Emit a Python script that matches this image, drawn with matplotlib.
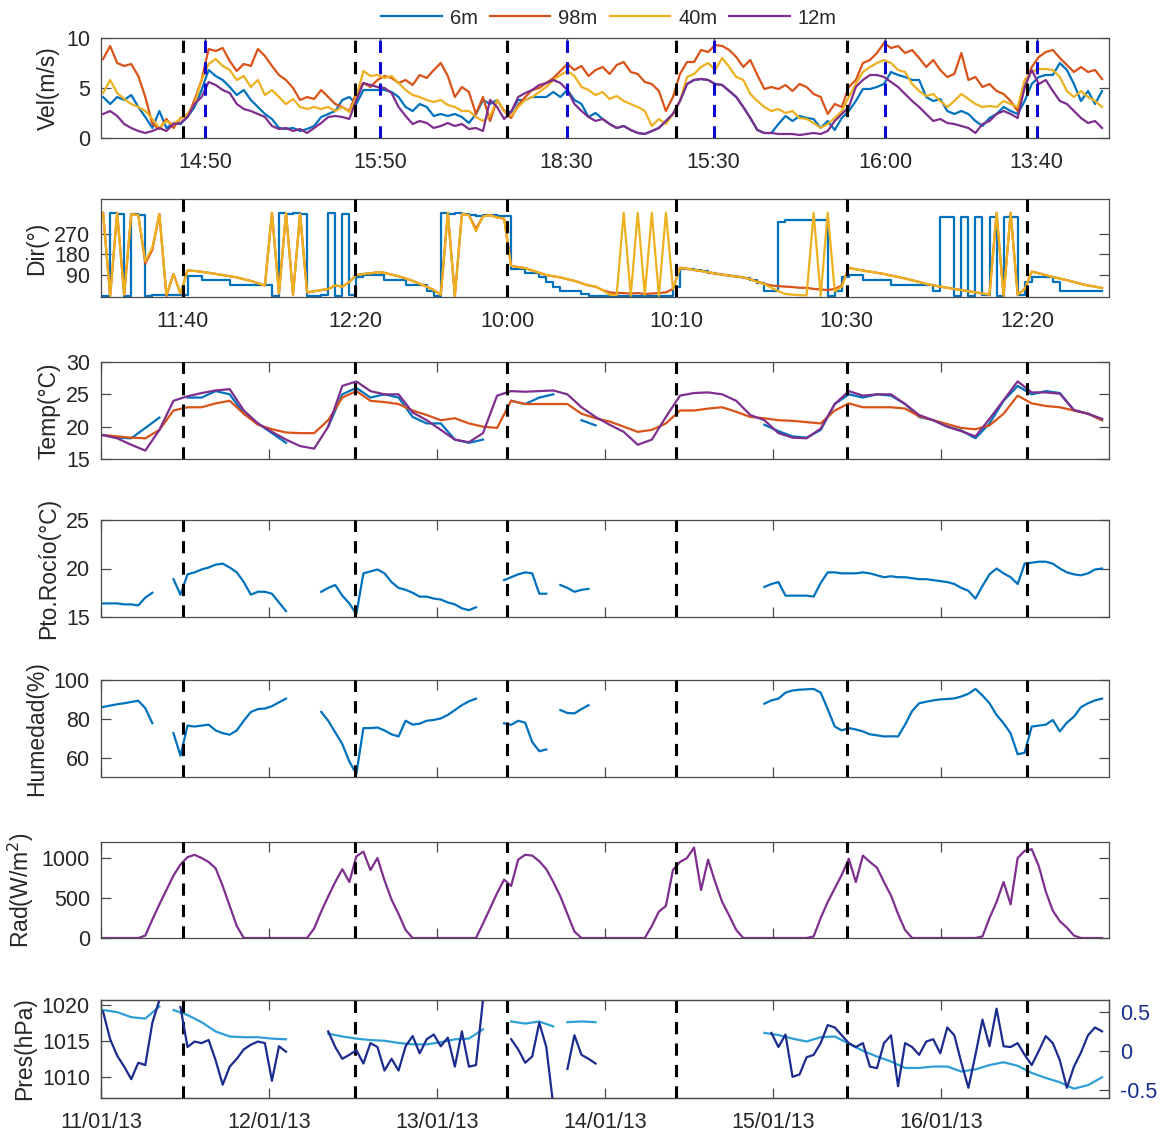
import numpy as np
import matplotlib
matplotlib.use("Agg")
import matplotlib.pyplot as plt

nan = np.nan

# ---------------- data ----------------
# hourly samples (index k), 2-hourly for the smoother temperature / pressure curves
vel_6m = [4.1, 3.4, 4.1, 3.8, 4.3, 3.1, 2.1, 1.0, 2.7, 1.0,
          1.5, 1.4, 2.1, 3.1, 4.8, 6.8, 6.2, 5.8, 5.1, 4.3,
          4.8, 3.8, 3.1, 2.4, 1.9, 1.0, 0.9, 1.0, 0.7, 0.9,
          1.2, 2.1, 2.4, 2.7, 3.8, 4.1, 3.4, 4.8, 4.8, 4.8,
          4.8, 4.6, 4.1, 3.1, 2.7, 3.4, 3.1, 2.2, 2.4, 2.2,
          2.4, 2.1, 1.5, 2.4, 3.8, 3.4, 3.8, 2.7, 2.6, 3.8,
          3.8, 4.1, 4.1, 4.1, 4.6, 4.1, 4.8, 3.8, 3.4, 2.1,
          2.5, 1.9, 1.4, 1.0, 1.2, 0.8, 0.5, 0.4, 0.7, 1.0,
          1.7, 2.4, 3.7, 5.4, 5.8, 5.9, 5.8, 5.4, 5.3, 4.7,
          4.1, 3.1, 2.0, 0.8, 0.5, 0.5, 1.4, 2.2, 1.7, 2.2,
          2.0, 1.9, 1.0, 1.7, 0.8, 2.0, 2.7, 3.7, 4.9, 4.9,
          5.1, 5.4, 6.6, 6.3, 6.1, 5.8, 5.8, 4.1, 3.7, 3.9,
          2.7, 2.4, 2.7, 2.4, 1.7, 1.2, 2.0, 2.4, 3.1, 2.7,
          2.4, 3.7, 5.4, 6.1, 6.3, 6.3, 7.5, 6.8, 5.4, 3.7,
          4.7, 3.4, 4.7]
vel_98m = [7.9, 9.2, 7.5, 7.2, 7.4, 6.2, 4.1, 1.4, 0.9, 1.9,
           1.0, 2.0, 2.2, 3.8, 5.8, 8.9, 8.7, 9.0, 7.7, 6.7,
           7.4, 7.2, 8.9, 8.2, 7.2, 6.3, 5.8, 5.0, 3.8, 4.1,
           3.9, 4.8, 4.1, 3.4, 3.1, 2.7, 4.5, 5.5, 5.1, 5.8,
           6.2, 6.0, 5.5, 5.8, 5.3, 6.3, 6.0, 6.8, 7.5, 6.2,
           4.1, 5.1, 4.6, 2.4, 4.1, 1.7, 3.8, 2.7, 2.0, 3.3,
           4.1, 4.8, 5.0, 5.5, 6.0, 6.7, 7.4, 6.8, 7.2, 6.2,
           6.8, 7.1, 6.4, 7.3, 7.6, 6.6, 6.4, 5.6, 5.4, 4.7,
           2.7, 4.1, 6.4, 7.6, 7.6, 8.8, 8.6, 9.3, 9.2, 8.8,
           8.1, 7.1, 7.8, 6.3, 4.9, 5.1, 4.9, 5.3, 4.7, 5.4,
           5.1, 4.4, 4.1, 2.4, 3.4, 3.1, 5.1, 5.8, 7.5, 7.8,
           8.5, 9.5, 9.0, 9.2, 8.5, 8.8, 8.0, 7.1, 7.8, 6.8,
           6.1, 6.4, 8.5, 5.8, 6.1, 5.1, 5.4, 4.7, 4.4, 3.7,
           2.7, 5.1, 7.1, 8.1, 8.6, 8.8, 8.0, 7.3, 6.6, 7.1,
           6.6, 6.8, 5.9]
vel_40m = [4.5, 5.8, 4.5, 3.9, 3.4, 3.1, 2.7, 1.9, 1.0, 1.7,
           1.4, 1.9, 2.4, 3.4, 5.8, 7.4, 7.9, 7.2, 6.8, 5.8,
           6.2, 5.1, 5.8, 4.3, 4.8, 4.1, 3.4, 3.9, 3.1, 2.9,
           3.1, 2.9, 3.1, 2.7, 3.1, 2.6, 4.1, 6.7, 6.2, 6.3,
           6.0, 6.2, 5.5, 4.8, 4.3, 4.1, 3.8, 3.6, 3.8, 3.3,
           3.1, 2.7, 2.7, 2.1, 1.7, 2.2, 3.8, 2.7, 2.2, 3.1,
           3.8, 4.1, 4.6, 5.1, 5.8, 6.3, 6.7, 6.2, 5.1, 4.8,
           4.3, 4.6, 3.9, 4.2, 3.7, 3.4, 3.1, 2.7, 1.2, 1.9,
           1.4, 2.4, 3.7, 6.1, 6.4, 7.1, 7.5, 6.8, 8.0, 7.1,
           6.1, 5.8, 4.4, 3.7, 3.1, 2.7, 2.9, 2.5, 2.7, 2.0,
           1.9, 1.5, 1.0, 1.4, 2.0, 2.7, 4.1, 5.4, 6.6, 7.1,
           7.5, 7.8, 7.5, 6.8, 6.6, 5.4, 4.7, 4.2, 4.4, 3.7,
           3.1, 3.7, 4.4, 3.9, 3.4, 3.1, 3.2, 3.1, 3.7, 3.4,
           3.1, 5.8, 6.6, 6.9, 6.9, 6.8, 6.1, 4.7, 4.1, 4.7,
           4.1, 3.7, 3.1]
vel_12m = [2.4, 2.7, 2.2, 1.4, 1.0, 0.7, 0.5, 0.7, 1.0, 0.7,
           1.4, 1.5, 2.1, 3.4, 4.1, 5.6, 5.3, 4.8, 4.5, 3.4,
           2.9, 2.7, 2.4, 2.1, 1.2, 0.9, 1.0, 0.7, 0.9, 0.5,
           1.0, 1.5, 2.1, 2.2, 2.1, 1.9, 3.8, 5.5, 5.3, 5.1,
           5.0, 4.5, 3.1, 2.2, 1.4, 1.7, 1.5, 1.0, 1.2, 1.5,
           1.2, 1.4, 0.9, 1.0, 0.7, 3.8, 3.1, 1.9, 2.6, 4.1,
           4.5, 4.8, 5.3, 5.5, 5.8, 5.5, 4.8, 3.4, 2.7, 2.1,
           1.7, 1.9, 1.4, 1.0, 1.2, 0.8, 0.5, 0.4, 0.7, 1.0,
           1.7, 2.4, 3.7, 5.4, 5.8, 5.9, 5.8, 5.4, 5.3, 4.7,
           4.1, 3.1, 2.0, 0.8, 0.5, 0.5, 0.4, 0.4, 0.4, 0.3,
           0.4, 0.5, 0.4, 0.7, 1.7, 2.4, 3.1, 5.1, 5.8, 6.3,
           6.3, 6.1, 5.6, 5.1, 4.4, 3.7, 3.1, 2.4, 1.7, 1.9,
           1.5, 1.4, 1.2, 1.0, 0.5, 1.4, 1.7, 2.4, 2.7, 2.4,
           2.0, 5.1, 6.8, 5.4, 5.8, 4.7, 3.7, 3.4, 2.7, 2.0,
           1.5, 1.7, 1.0]

dir_6m = [0, 360, 355, 0, 355, 350, 0, 5, 5, 5,
          5, 5, 88, 88, 70, 70, 70, 70, 45, 45,
          45, 45, 45, 45, 0, 360, 355, 360, 355, 0,
          0, 5, 360, 0, 355, 5, 80, 90, 90, 90,
          70, 70, 70, 45, 45, 45, 20, 0, 360, 355,
          360, 355, 350, 345, 350, 350, 345, 345, 115, 115,
          100, 100, 80, 60, 40, 20, 20, 20, 10, 0,
          0, 0, 0, 0, 0, 0, 0, 0, 0, 0,
          0, 40, 118, 116, 110, 106, 100, 95, 90, 86,
          82, 78, 70, 55, 20, 20, 320, 330, 330, 330,
          330, 330, 330, 0, 20, 80, 90, 90, 70, 70,
          70, 70, 45, 45, 45, 45, 45, 45, 20, 340,
          340, 0, 340, 0, 340, 5, 340, 0, 340, 340,
          5, 60, 82, 82, 82, 60, 20, 20, 20, 20,
          20, 20, 20]
dir_98m = [360, 0, 360, 5, 355, 350, 140, 200, 355, 0,
           95, 10, 110, 108, 104, 100, 95, 90, 85, 80,
           72, 65, 55, 45, 360, 10, 360, 5, 355, 15,
           20, 25, 30, 45, 40, 60, 90, 95, 98, 102,
           100, 92, 85, 75, 65, 52, 40, 25, 5, 360,
           0, 355, 350, 290, 345, 350, 340, 335, 130, 125,
           120, 110, 100, 90, 85, 80, 72, 65, 55, 45,
           40, 25, 15, 12, 12, 10, 12, 8, 10, 12,
           15, 30, 122, 118, 112, 108, 102, 97, 92, 88,
           84, 80, 72, 62, 52, 45, 42, 40, 38, 35,
           35, 30, 28, 25, 30, 45, 122, 115, 110, 105,
           100, 95, 88, 82, 75, 68, 60, 52, 45, 40,
           35, 30, 25, 20, 15, 10, 5, 360, 0, 360,
           5, 30, 105, 98, 90, 82, 75, 68, 60, 52,
           45, 40, 34]
dir_40m = [360, 0, 360, 5, 355, 350, 150, 210, 355, 5,
           95, 10, 110, 108, 104, 100, 95, 90, 85, 80,
           72, 65, 55, 45, 360, 10, 360, 5, 355, 15,
           20, 25, 30, 45, 40, 60, 90, 95, 98, 102,
           100, 92, 85, 75, 65, 52, 40, 25, 5, 360,
           0, 355, 350, 280, 345, 350, 340, 335, 130, 125,
           120, 110, 100, 90, 85, 80, 72, 65, 55, 45,
           40, 25, 5, 3, 360, 0, 360, 5, 360, 0,
           360, 30, 120, 118, 112, 108, 102, 97, 92, 88,
           84, 80, 72, 60, 50, 35, 20, 8, 5, 3,
           2, 360, 0, 360, 20, 40, 122, 115, 110, 105,
           100, 95, 88, 82, 75, 68, 60, 52, 45, 40,
           35, 30, 25, 20, 15, 10, 5, 360, 0, 360,
           5, 30, 105, 98, 90, 82, 75, 68, 60, 52,
           45, 40, 34]

# temperature, every 2 h
temp_6m = [18.7, 18.3, 18.2, 19.8, 21.4, nan, 24.5, 24.5, 25.5, 25.0,
           22.0, 20.5, 19.0, 17.5, nan, nan, 20.0, 25.0, 26.0, 24.5,
           25.0, 24.5, 21.5, 20.5, 20.5, 18.0, 17.5, 18.0, nan, 24.0,
           23.5, 24.5, 25.0, nan, 21.0, 20.2, nan, nan, nan, nan,
           nan, nan, nan, nan, nan, nan, nan, 20.3, 19.3, 18.5,
           18.3, 19.5, 23.5, 25.0, 24.5, 25.0, 24.8, 23.5, 21.5, 21.0,
           20.0, 19.4, 18.2, 20.5, 24.0, 26.3, 25.0, 25.5, 25.2, 22.5,
           22.0, 21.0]
temp_98m = [18.7, 18.5, 18.3, 18.2, 19.5, 22.5, 23.0, 23.0, 23.6, 24.0,
            22.0, 20.3, 19.6, 19.1, 19.0, 19.0, 21.0, 24.5, 25.5, 24.0,
            23.8, 23.5, 22.5, 21.8, 21.0, 21.3, 20.5, 20.0, 19.8, 24.0,
            23.5, 23.5, 23.5, 23.5, 22.0, 21.3, 20.8, 20.0, 19.2, 19.5,
            20.5, 22.5, 22.5, 22.8, 23.0, 22.3, 21.5, 21.3, 21.0, 20.9,
            20.7, 20.5, 22.5, 23.6, 23.0, 23.0, 23.0, 22.8, 21.6, 21.0,
            20.4, 19.8, 19.6, 20.2, 22.0, 24.8, 23.6, 23.2, 23.0, 22.5,
            22.0, 21.0]
temp_12m = [18.7, 18.2, 17.2, 16.3, 19.5, 24.0, 24.7, 25.2, 25.6, 25.8,
            22.5, 20.5, 19.2, 18.0, 17.0, 16.6, 20.0, 26.3, 27.0, 25.5,
            25.0, 25.0, 22.2, 21.0, 19.5, 18.0, 17.6, 19.0, 24.8, 25.5,
            25.4, 25.5, 25.6, 25.0, 23.0, 21.5, 20.3, 19.2, 17.2, 18.0,
            21.5, 24.8, 25.2, 25.3, 25.0, 24.0, 21.8, 21.0, 19.0, 18.3,
            18.2, 19.7, 23.5, 25.5, 24.8, 25.0, 25.0, 23.5, 21.8, 21.0,
            20.0, 19.3, 18.5, 21.2, 24.1, 27.0, 25.3, 25.3, 25.1, 22.6,
            22.0, 21.2]

# 6 m sensor runs in pieces: start sample of each piece and hourly values
piece_start = [0, 10, 31, 57, 65, 94]
dew_vals = [[16.4, 16.4, 16.4, 16.3, 16.3, 16.2, 17.0, 17.5],
            [18.9, 17.3, 19.4, 19.6, 19.9, 20.1, 20.4, 20.5, 20.1, 19.6, 18.6, 17.3,
             17.6, 17.6, 17.4, 16.5, 15.6],
            [17.6, 18.0, 18.3, 17.2, 16.4, 15.3, 19.5, 19.7, 19.9, 19.5, 18.6, 18.0,
             17.8, 17.5, 17.1, 17.1, 16.9, 16.8, 16.5, 16.3, 15.9, 15.7, 16.0],
            [18.8, 19.1, 19.4, 19.6, 19.5, 17.4, 17.4],
            [18.3, 18.0, 17.6, 17.8, 17.9],
            [18.1, 18.4, 18.6, 17.2, 17.2, 17.2, 17.2, 17.1, 18.5, 19.6,
             19.6, 19.5, 19.5, 19.5, 19.6, 19.5, 19.3, 19.1, 19.2, 19.1,
             19.1, 19.0, 18.9, 18.9, 18.8, 18.7, 18.6, 18.4, 18.0, 17.7,
             16.9, 18.2, 19.4, 20.0, 19.5, 19.1, 18.4, 20.5, 20.6, 20.7,
             20.7, 20.5, 20.0, 19.6, 19.4, 19.3, 19.5, 19.9, 20.0]]
hum_vals = [[86.1, 86.8, 87.5, 88.0, 88.7, 89.3, 85.5, 77.7],
            [72.6, 61.0, 76.5, 76.0, 76.5, 77.0, 74.0, 72.6, 71.8, 74.0, 79.0, 83.5,
             85.0, 85.3, 86.5, 88.5, 90.4],
            [83.6, 79.0, 73.0, 67.0, 58.0, 51.5, 75.2, 75.2, 75.5, 74.0, 72.0, 70.9,
             79.0, 77.0, 77.5, 79.0, 79.4, 80.2, 82.0, 84.5, 87.0, 89.0, 90.4],
            [77.7, 76.9, 79.0, 78.0, 68.0, 63.3, 64.2],
            [84.5, 83.0, 82.8, 85.0, 87.0],
            [87.8, 89.5, 90.4, 93.5, 94.6, 95.0, 95.2, 95.4, 93.5, 85.0,
             76.0, 74.0, 75.2, 74.5, 73.5, 72.0, 71.5, 70.9, 71.0, 70.9,
             77.0, 84.0, 88.0, 88.8, 89.5, 90.0, 90.2, 90.5, 91.5, 92.9,
             95.4, 92.0, 88.0, 82.0, 77.7, 72.5, 61.7, 62.5, 76.0, 76.5,
             77.0, 79.4, 73.5, 78.0, 81.1, 86.0, 88.0, 89.5, 90.4]]

rad = [0, 0, 0, 0, 0, 0,
       30, 230, 420, 600, 780, 920, 1010, 1040, 1000, 950, 870, 650, 400, 150,
       0, 0, 0, 0, 0, 0, 0, 0, 0,
       0, 120, 330, 520, 700, 860, 700, 1020, 1080, 850, 1000, 720, 480, 300, 100,
       0, 0, 0, 0, 0, 0, 0, 0, 0,
       0, 180, 370, 560, 730, 650, 980, 1040, 1030, 960, 860, 700, 520, 300, 80,
       0, 0, 0, 0, 0, 0, 0, 0, 0,
       0, 150, 330, 400, 850, 950, 1000, 1130, 600, 980, 700, 450, 280, 100,
       0, 0, 0, 0, 0, 0, 0, 0, 0, 0,
       20, 250, 450, 620, 790, 990, 700, 1030, 950, 880, 700, 530, 300, 100,
       0, 0, 0, 0, 0, 0, 0, 0, 0, 0,
       20, 250, 450, 700, 420, 1000, 1090, 1110, 900, 580, 340, 210, 130, 30,
       0, 0, 0, 0]

pres_start = [0, 10, 32, 58, 66, 94]          # every 2 h
pres_vals = [[1019.3, 1019.0, 1018.3, 1018.1, 1019.8],
             [1019.3, 1018.6, 1017.6, 1016.3, 1015.6, 1015.5, 1015.5, 1015.3, 1015.2],
             [1016.0, 1015.6, 1015.3, 1015.1, 1015.0, 1014.7, 1014.5, 1014.5, 1014.8,
              1015.2, 1015.3, 1016.6],
             [1017.7, 1017.4, 1017.7, 1017.0],
             [1017.6, 1017.7, 1017.6],
             [1016.1, 1015.8, 1015.3, 1014.9, 1015.5, 1015.6, 1014.6, 1013.6, 1012.8,
              1012.1, 1011.2, 1011.2, 1011.4, 1011.4, 1010.7, 1011.0, 1011.6, 1012.0,
              1011.5, 1010.5, 1009.8, 1009.2, 1008.3, 1008.8, 1009.9]]
dp_start = [0, 11, 32, 58, 66, 95]             # hourly, right axis
dp_vals = [[0.50, 0.15, -0.06, -0.20, -0.36, -0.15, -0.18, 0.36, 0.65],
           [0.56, 0.05, 0.12, 0.10, 0.14, -0.12, -0.43, -0.20, -0.10, 0.02, 0.08,
            0.12, 0.10, -0.38, 0.06, -0.01],
           [0.25, 0.05, -0.10, -0.05, 0.01, -0.16, 0.10, 0.05, -0.25, -0.10,
            -0.25, 0.06, 0.19, -0.03, 0.15, 0.21, 0.06, 0.17, -0.20, 0.25,
            -0.20, -0.18, 0.65],
           [0.15, 0.02, -0.15, -0.07, 0.36, 0.05, -0.70],
           [-0.23, 0.20, -0.05, -0.10, -0.16],
           [0.23, 0.05, 0.21, -0.33, -0.30, -0.08, -0.05, 0.10, 0.33, 0.30,
            0.20, 0.10, 0.05, 0.10, -0.20, -0.22, 0.10, 0.20, -0.45, 0.10,
            0.05, -0.05, 0.12, 0.15, -0.03, 0.30, 0.20, -0.15, -0.47, -0.05,
            0.40, 0.06, 0.54, 0.06, 0.05, 0.10, -0.05, -0.18, 0.00, 0.19,
            0.10, -0.12, -0.47, -0.20, -0.02, 0.20, 0.30, 0.25]]

days = ['11/01/13', '12/01/13', '13/01/13', '14/01/13', '15/01/13', '16/01/13']
black_marks = ['11:40', '12:20', '10:00', '10:10', '10:30', '12:20']
blue_marks = ['14:50', '15:50', '18:30', '15:30', '16:00', '13:40']
legend_names = ['6m', '98m', '40m', '12m']


def clock(k):
    # sample index -> hours since 11/01/13 00:00
    return 0.3 + 1.005 * np.asarray(k, dtype=float)


def pieces(starts, chunks, step=1):
    t, y = [], []
    for s, c in zip(starts, chunks):
        t.extend(clock(s + step * np.arange(len(c))))
        y.extend(c)
        t.append(nan)
        y.append(nan)
    return np.array(t), np.array(y)


def mark_hours(marks):
    return [24 * d + int(m[:2]) + int(m[3:]) / 60 for d, m in enumerate(marks)]


t1 = clock(np.arange(len(vel_6m)))
t2 = clock(2 * np.arange(len(temp_12m)))
black_t = mark_hours(black_marks)
blue_t = mark_hours(blue_marks)

C6, C98, C40, C12 = '#0072BD', '#D95319', '#EDB120', '#7E2F8E'
LIGHT, DARK = '#2e9fd4', '#1b2c8e'
TXT = '#262626'
LW = 1.6
FS = 15.5

plt.rcParams['font.family'] = ['Liberation Sans', 'DejaVu Sans']
plt.rcParams['axes.linewidth'] = 0.9
plt.rcParams['axes.edgecolor'] = '#4a4a4a'

fig = plt.figure(figsize=(11.66, 11.37), dpi=100)
L, Wd = 101 / 1166, 1008 / 1166
boxes = [(38, 138), (199, 297), (362, 459), (520, 617), (680, 777), (842, 938), (1000, 1098)]
axs = [fig.add_axes([L, 1 - b / 1137, Wd, (b - t) / 1137]) for t, b in boxes]

for ax in axs:
    ax.set_xlim(0, 144)
    ax.tick_params(direction='in', length=7, width=0.9, top=True, right=True,
                   labelsize=FS, colors='#4a4a4a', labelcolor=TXT, pad=8)
    ax.set_xticks(np.arange(0, 144, 24))
    ax.tick_params(axis='x', labelbottom=False)

dash = (0, (4, 3))


def vlines(ax, times, color='k'):
    for x in times:
        ax.axvline(x, color=color, ls=dash, lw=2.2, zorder=5)


# Vel
ax = axs[0]
lines = []
for v, c in zip([vel_6m, vel_98m, vel_40m, vel_12m], [C6, C98, C40, C12]):
    lines += ax.plot(t1, v, color=c, lw=LW)
ax.set_ylim(0, 10)
ax.set_yticks([0, 5, 10])
vlines(ax, black_t)
vlines(ax, blue_t, '#0a0ad0')
ax.set_xticks(blue_t)
ax.set_xticklabels(blue_marks)
ax.tick_params(axis='x', labelbottom=True, pad=10)
ax.set_ylabel('Vel(m/s)', fontsize=16.5, color=TXT)
fig.legend(lines, legend_names, loc='center', bbox_to_anchor=(609 / 1166, 1 - 18 / 1137),
           ncol=4, frameon=False, fontsize=14.5, handlelength=3.0, columnspacing=0.6,
           handletextpad=0.4, labelcolor=TXT)

# Dir
ax = axs[1]
ax.plot(t1, dir_6m, color=C6, lw=LW, drawstyle='steps-post')
ax.plot(t1, dir_98m, color=C98, lw=LW)
ax.plot(t1, dir_40m, color=C40, lw=LW)
ax.set_ylim(-5, 420)
ax.set_yticks([90, 180, 270])
vlines(ax, black_t)
ax.set_xticks(black_t)
ax.set_xticklabels(black_marks)
ax.tick_params(axis='x', labelbottom=True, pad=10)
ax.set_ylabel('Dir(°)', fontsize=16.5, color=TXT)

# Temp
ax = axs[2]
ax.plot(t2, temp_6m, color=C6, lw=LW)
ax.plot(t2, temp_98m, color=C98, lw=LW)
ax.plot(t2, temp_12m, color=C12, lw=LW)
ax.set_ylim(15, 30)
ax.set_yticks([15, 20, 25, 30])
vlines(ax, black_t)
ax.set_ylabel('Temp(°C)', fontsize=16.5, color=TXT)

# Dew point
ax = axs[3]
td, yd = pieces(piece_start, dew_vals)
ax.plot(td, yd, color=C6, lw=LW)
ax.set_ylim(15, 25)
ax.set_yticks([15, 20, 25])
vlines(ax, [x for i, x in enumerate(black_t) if i != 4])
ax.set_ylabel('Pto.Rocío(°C)', fontsize=16.5, color=TXT)

# Humidity
ax = axs[4]
th, yh = pieces(piece_start, hum_vals)
ax.plot(th, yh, color=C6, lw=LW)
ax.set_ylim(50, 100)
ax.set_yticks([60, 80, 100])
vlines(ax, black_t)
ax.set_ylabel('Humedad(%)', fontsize=16.5, color=TXT)

# Radiation
ax = axs[5]
ax.plot(t1, rad, color=C12, lw=LW)
ax.set_ylim(0, 1200)
ax.set_yticks([0, 500, 1000])
vlines(ax, black_t)
ax.set_ylabel('Rad(W/m$^2$)', fontsize=16.5, color=TXT)

# Pressure
ax = axs[6]
tp, yp = pieces(pres_start, pres_vals, step=2)
ax.plot(tp, yp, color=LIGHT, lw=LW)
ax.set_ylim(1007, 1020.7)
ax.set_yticks([1010, 1015, 1020])
ax.tick_params(axis='y', right=False)
ax.set_xticks(np.arange(0, 144, 24))
ax.set_xticklabels(days)
ax.tick_params(axis='x', labelbottom=True, pad=10)
vlines(ax, black_t)
ax.set_ylabel('Pres(hPa)', fontsize=16.5, color=TXT)
ax2 = ax.twinx()
tq, yq = pieces(dp_start, dp_vals)
ax2.plot(tq, yq, color=DARK, lw=LW)
ax2.set_xlim(0, 144)
ax2.set_ylim(-0.6, 0.65)
ax2.set_yticks([-0.5, 0, 0.5])
ax2.set_yticklabels(['-0.5', '0', '0.5'])
ax2.tick_params(axis='y', direction='in', length=7, width=0.9, labelsize=FS,
                colors='#4a4a4a', labelcolor=DARK, pad=8)

fig.savefig('out.png', dpi=100)
